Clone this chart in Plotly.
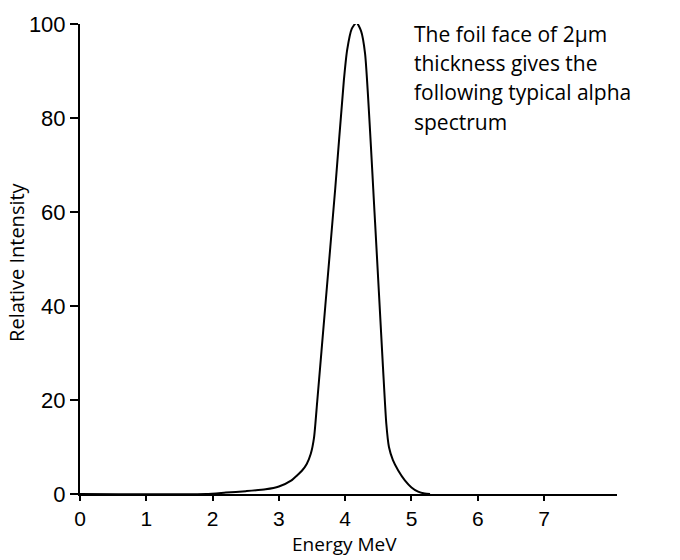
import plotly.graph_objects as go

energy_mev = [0, 1.9, 2.2, 2.5, 2.8, 3.0, 3.19, 3.27, 3.35, 3.42, 3.48, 3.53, 3.58, 3.7, 3.85, 3.98, 4.03,
              4.1, 4.17, 4.24, 4.3, 4.45, 4.57, 4.62, 4.66, 4.72, 4.8, 4.9, 5.0, 5.1, 5.2, 5.28]
intensity = [0, 0, 0.3, 0.6, 1.0, 1.6, 2.9, 3.9, 5.0, 6.4, 8.5, 12.0, 20, 40, 65, 88, 94.5,
             99, 100.3, 98.5, 93.7, 58, 27, 15, 10, 7.2, 5.0, 2.9, 1.4, 0.5, 0.1, 0]

x_ticks = [0, 1, 2, 3, 4, 5, 6, 7]
y_ticks = [0, 20, 40, 60, 80, 100]

note_lines = ["The foil face of 2\u00b5m", "thickness gives the", "following typical alpha", "spectrum"]

W, H = 680, 560
L, R, T, B = 80, 63, 12, 66
PW, PH = W - L - R, H - T - B


def px_x(px):
    return (px - L) / PW


def px_y(py):
    return (H - B - py) / PH


fig = go.Figure()
fig.add_trace(go.Scatter(
    x=energy_mev, y=intensity, mode="lines",
    line=dict(color="black", width=2, shape="spline", smoothing=0.6),
    hoverinfo="skip", showlegend=False, cliponaxis=False,
))

fig.update_layout(
    width=W, height=H,
    margin=dict(l=L, r=R, t=T, b=B),
    plot_bgcolor="white", paper_bgcolor="white",
    showlegend=False,
)
fig.update_xaxes(
    range=[0, 8.1], tickvals=x_ticks, ticktext=[str(v) for v in x_ticks],
    showgrid=False, zeroline=False, showline=True, linecolor="black", linewidth=2,
    ticks="outside", ticklen=5, tickwidth=2, tickcolor="black",
    tickfont=dict(family="Liberation Sans, Arial", size=21, color="black"),
)
fig.update_yaxes(
    range=[0, 100], tickvals=y_ticks, ticktext=[str(v) for v in y_ticks],
    showgrid=False, zeroline=False, showline=True, linecolor="black", linewidth=2,
    ticks="outside", ticklen=8, tickwidth=2, tickcolor="black",
    tickfont=dict(family="Liberation Sans, Arial", size=22, color="black"),
    ticklabeloverflow="allow",
)

fig.add_annotation(
    xref="paper", yref="paper", x=px_x(344), y=px_y(560),
    xanchor="center", yanchor="bottom", showarrow=False, borderpad=0,
    text="Energy MeV", font=dict(family="Open Sans", size=19, color="black"),
)
fig.add_annotation(
    xref="paper", yref="paper", x=px_x(17), y=px_y(256),
    xanchor="center", yanchor="middle", showarrow=False, textangle=-90,
    text="Relative Intensity", font=dict(family="Open Sans", size=20, color="black"),
)

for i, line in enumerate(note_lines):
    fig.add_annotation(
        xref="paper", yref="paper", x=px_x(412), y=px_y(22 + 30 * i),
        xanchor="left", yanchor="middle", align="left", showarrow=False,
        text=line, font=dict(family="Open Sans", size=21, color="black"),
    )

# remove the browser's default 8px body margin so the figure fills the window exactly
fig.write_html(
    "out.html",
    config={"displayModeBar": False},
    post_script="document.body.style.margin='0px';",
)
